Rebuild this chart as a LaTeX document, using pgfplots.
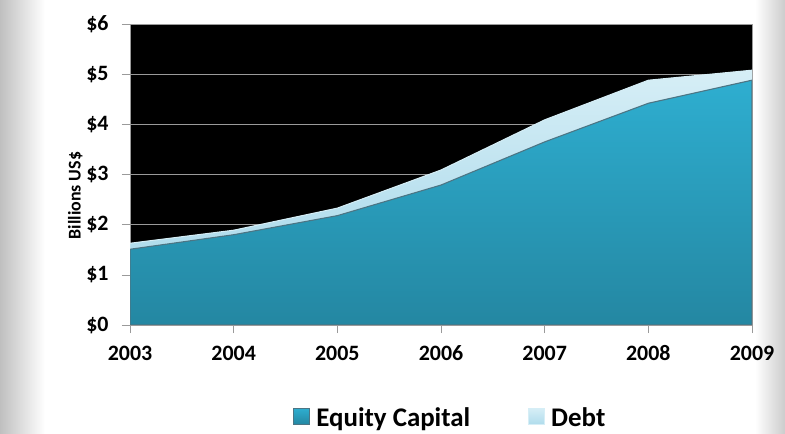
\documentclass[border=0pt]{standalone}
\usepackage{pgfplots}
\pgfplotsset{compat=1.18}
\usepackage{fontspec}
\setmainfont{Carlito}
\definecolor{eqtop}{HTML}{2EAED0}
\definecolor{eqbot}{HTML}{2487A2}
\definecolor{eqedge}{HTML}{4C7584}
\definecolor{debtcol}{HTML}{B0DCEC}
\definecolor{debtedge}{HTML}{D6EEF6}
\definecolor{gridc}{HTML}{9A9A9A}
\begin{document}
\begin{tikzpicture}
\path[use as bounding box] (0bp,0bp) rectangle (785bp,434bp);
\fill[white] (0bp,0bp) rectangle (785bp,434bp);
\shade[left color=black!25, right color=white] (0bp,0bp) rectangle (45bp,434bp);
\shade[left color=white, right color=black!20] (755bp,0bp) rectangle (785bp,434bp);
\begin{axis}[
  scale only axis,
  width=622bp, height=301bp,
  at={(130bp,109bp)}, anchor=south west,
  xmin=0, xmax=6, ymin=0, ymax=6,
  xtick={0,...,6},
  xticklabels={2003,2004,2005,2006,2007,2008,2009},
  ytick={0,...,6},
  yticklabels={\$0,\$1,\$2,\$3,\$4,\$5,\$6},
  xtick pos=bottom, ytick pos=left,
  tick align=outside,
  major tick length=8bp,
  tick style={gridc, thin},
  axis line style={gridc},
  axis background/.style={fill=black},
  ymajorgrids, grid style={gridc, line width=0.8pt},
  ticklabel style={font=\fontsize{22}{24}\selectfont\bfseries},
  yticklabel style={xshift=-10bp},
  xticklabel style={yshift=-10bp, text height=14bp, text depth=2bp},
  ylabel={\textbf{Billions US\$}},
  every axis y label/.style={at={(axis description cs:-0.088,0.43)}, rotate=90, anchor=center,
    font=\fontsize{18}{20}\selectfont},
  stack plots=y,
  legend columns=2,
  legend style={at={(0.515,-0.31)}, anchor=center, draw=none, fill=none,
    font=\fontsize{27}{29}\selectfont\bfseries,
    /tikz/every odd column/.append style={column sep=4bp},
    /tikz/every even column/.append style={column sep=56bp}},
  legend image code/.code={\shade[#1] (0bp,-6bp) rectangle (16bp,10bp);},
]
\addplot[draw=eqedge, line width=1.1pt, top color=eqtop, bottom color=eqbot] coordinates {
  (0,1.51) (1,1.80) (2,2.18) (3,2.79) (4,3.65) (5,4.42) (6,4.88)
} \closedcycle;
\addplot[draw=debtedge, line width=1pt, top color=debtedge, bottom color=debtcol] coordinates {
  (0,0.12) (1,0.09) (2,0.15) (3,0.30) (4,0.44) (5,0.46) (6,0.20)
} \closedcycle;
\legend{Equity Capital,Debt}
\end{axis}
\end{tikzpicture}
\end{document}
